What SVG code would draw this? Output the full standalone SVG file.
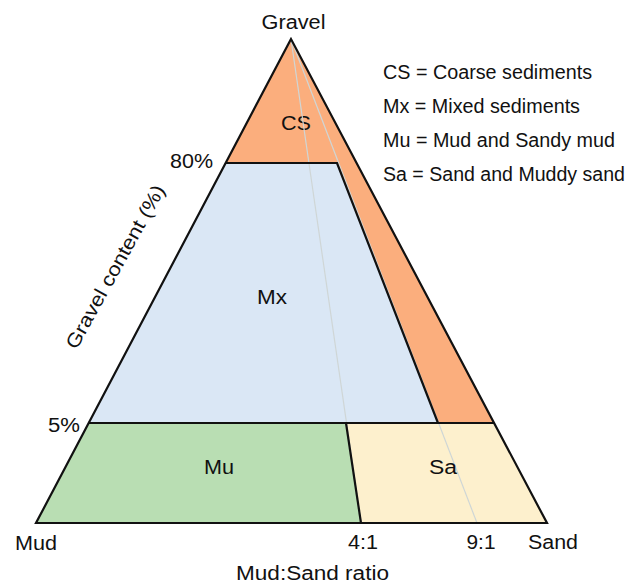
<svg xmlns="http://www.w3.org/2000/svg" width="628" height="586" viewBox="0 0 628 586">
<style>
text{font-family:"Liberation Sans",Arial,sans-serif;font-size:19.5px;fill:#111}
.edge{fill:none;stroke:#111;stroke-width:2.2;stroke-linejoin:miter}
.faint{fill:none;stroke:#cfd6d6;stroke-width:1.2}
.mid{text-anchor:middle}
</style>
<rect width="628" height="586" fill="#fff"/>
<g id="CS">
<polygon points="291,39 36,523 547,523" fill="#fbae7d"/>
<text class="mid" x="296" y="130" textLength="30" lengthAdjust="spacingAndGlyphs">CS</text>
</g>
<g id="Mx">
<polygon points="226,163 337,163 438,423 89,423" fill="#dae7f5"/>
</g>
<g id="Mu">
<polygon points="89,423 346,423 361,523 36,523" fill="#b9deb3"/>
</g>
<g id="Sa">
<polygon points="346,423 494,423 547,523 361,523" fill="#fdf0cd"/>
</g>
<g id="connectors">
<line class="faint" x1="291" y1="39" x2="361" y2="523"/>
<line class="faint" x1="291" y1="39" x2="477" y2="523"/>
<polyline class="edge" points="226,163 337,163 438,423"/>
<line class="edge" x1="89" y1="423" x2="494" y2="423"/>
<line class="edge" x1="346" y1="423" x2="361" y2="523"/>
<polygon class="edge" points="291,39 36,523 547,523"/>
</g>
<g id="labels">
<text class="mid" x="272" y="304" textLength="30" lengthAdjust="spacingAndGlyphs">Mx</text>
<text class="mid" x="219" y="474" textLength="30" lengthAdjust="spacingAndGlyphs">Mu</text>
<text class="mid" x="443" y="474" textLength="28" lengthAdjust="spacingAndGlyphs">Sa</text>
<text class="mid" x="293.5" y="29" textLength="64" lengthAdjust="spacingAndGlyphs">Gravel</text>
<text x="170" y="168" textLength="43" lengthAdjust="spacingAndGlyphs">80%</text>
<text x="48" y="432" textLength="32" lengthAdjust="spacingAndGlyphs">5%</text>
<text x="15" y="550" textLength="42" lengthAdjust="spacingAndGlyphs">Mud</text>
<text class="mid" x="363" y="549" textLength="30" lengthAdjust="spacingAndGlyphs">4:1</text>
<text class="mid" x="481" y="549" textLength="29" lengthAdjust="spacingAndGlyphs">9:1</text>
<text x="528" y="549" textLength="50" lengthAdjust="spacingAndGlyphs">Sand</text>
<text x="236" y="580" textLength="153" lengthAdjust="spacingAndGlyphs">Mud:Sand ratio</text>
<text class="mid" transform="translate(121,270) rotate(-61)" textLength="184" lengthAdjust="spacingAndGlyphs">Gravel content (%)</text>
</g>
<g id="legend">
<text x="383" y="79" textLength="209" lengthAdjust="spacingAndGlyphs">CS = Coarse sediments</text>
<text x="383" y="113" textLength="197" lengthAdjust="spacingAndGlyphs">Mx = Mixed sediments</text>
<text x="383" y="147" textLength="232" lengthAdjust="spacingAndGlyphs">Mu = Mud and Sandy mud</text>
<text x="383" y="181" textLength="242" lengthAdjust="spacingAndGlyphs">Sa = Sand and Muddy sand</text>
</g>
</svg>
